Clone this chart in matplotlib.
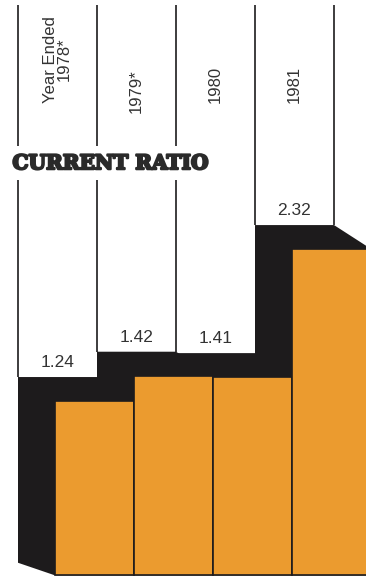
import matplotlib
matplotlib.use("Agg")
import matplotlib.pyplot as plt
import matplotlib.patheffects as pe
from matplotlib.patches import Polygon

# current ratio by fiscal year
years = ["Year Ended\n1978*", "1979*", "1980", "1981"]
ratios = [1.24, 1.42, 1.41, 2.32]
value_labels = ["1.24", "1.42", "1.41", "2.32"]

orange = "#eb9b2f"
dark = "#1d1b1c"
ink = "#333333"

# depth of the extruded front face, in data units
dx = 0.47
dy = 0.17
back_floor = -0.08

fig = plt.figure(figsize=(3.66, 5.82), dpi=100)
ax = fig.add_axes([0, 0, 1, 1])
ax.set_xlim(-18 / 79, 348 / 79)
ax.set_ylim(-30.5 / 140.7, 551.5 / 140.7)
ax.axis("off")

xs = list(range(len(ratios)))

# dark sides: hull of back face and shifted front face
for x, h in zip(xs, ratios):
    pts = [(x, h), (x + 1, h), (x + 1 + dx, h - dy), (x + 1 + dx, -dy),
           (x + dx, -dy), (x, back_floor)]
    ax.add_patch(Polygon(pts, closed=True, facecolor=dark, edgecolor="none", zorder=1))

# orange front faces
ax.bar([x + dx for x in xs], ratios, width=1, bottom=-dy, align="edge",
       color=orange, edgecolor=dark, linewidth=1.2, zorder=2)

# column dividers above the bars
top = 3.885
for i in range(len(ratios) + 1):
    left = ratios[i - 1] if i > 0 else 0
    right = ratios[i] if i < len(ratios) else 0
    ax.vlines(i, max(left, right), top, color=dark, linewidth=1.2, zorder=1)

# year labels, rotated
label_y = [3.19, 3.12, 3.19, 3.19]
for x, lab, ly in zip(xs, years, label_y):
    ax.text(x + 0.5, ly, lab, rotation=90, ha="center", va="bottom",
            fontsize=12, family="Liberation Sans", color=ink, linespacing=0.95, zorder=3)

# values on the back faces
for x, h, lab in zip(xs, ratios, value_labels):
    ax.text(x + 0.5, h + 0.05, lab, ha="center", va="bottom",
            fontsize=12.5, family="Liberation Sans", color=ink, zorder=3)

ax.text(-0.07, 2.76, "CURRENT RATIO", ha="left", va="center",
        fontsize=14.5, family="DejaVu Serif", fontweight="bold", color="#2a2a2a",
        bbox=dict(facecolor="white", edgecolor="none", pad=5), zorder=4,
        path_effects=[pe.withStroke(linewidth=1.6, foreground="#2a2a2a")])

fig.savefig("out.png", dpi=100)
